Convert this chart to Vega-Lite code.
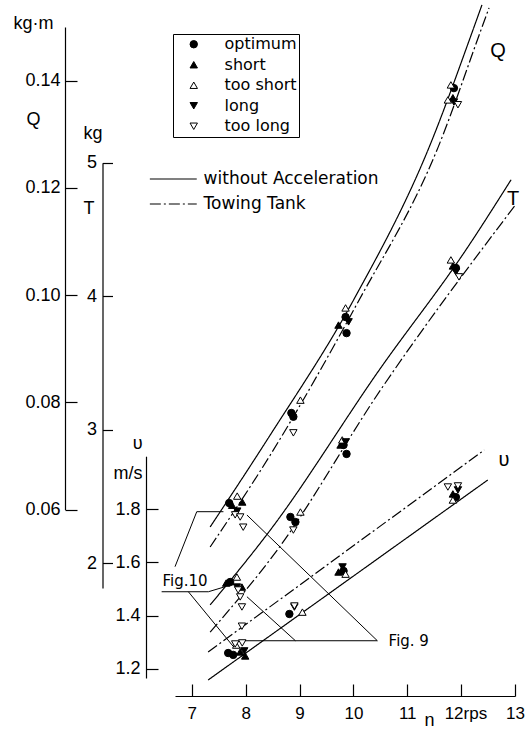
{
  "$schema": "https://vega.github.io/schema/vega-lite/v6.json",
  "width": 340,
  "height": 696,
  "autosize": {"type": "none"},
  "padding": {"left": 175, "top": 0, "right": 15, "bottom": 36},
  "background": "white",
  "config": {
    "view": {"stroke": null},
    "font": "Liberation Sans",
    "axis": {
      "grid": false,
      "domainColor": "black",
      "tickColor": "black",
      "labelColor": "black",
      "titleColor": "black",
      "domainWidth": 1.2,
      "tickWidth": 1.2,
      "labelFont": "Liberation Sans",
      "titleFont": "Liberation Sans",
      "titleFontWeight": "normal",
      "labelFlush": false,
      "labelOverlap": false
    }
  },
  "datasets": {
    "Qc": [
      {"n": 7.341, "Q": 0.05673, "curve": "without Acceleration"},
      {"n": 8.421, "Q": 0.07334, "curve": "without Acceleration"},
      {"n": 10.004, "Q": 0.09909, "curve": "without Acceleration"},
      {"n": 11.401, "Q": 0.12745, "curve": "without Acceleration"},
      {"n": 12.220, "Q": 0.14946, "curve": "without Acceleration"},
      {"n": 12.387, "Q": 0.15413, "curve": "without Acceleration"},
      {"n": 7.341, "Q": 0.05300, "curve": "Towing Tank"},
      {"n": 8.458, "Q": 0.07017, "curve": "Towing Tank"},
      {"n": 10.073, "Q": 0.09847, "curve": "Towing Tank"},
      {"n": 11.568, "Q": 0.12745, "curve": "Towing Tank"},
      {"n": 12.369, "Q": 0.14946, "curve": "Towing Tank"},
      {"n": 12.518, "Q": 0.15357, "curve": "Towing Tank"}
    ],
    "Tc": [
      {"n": 7.341, "T": 1.688, "curve": "without Acceleration"},
      {"n": 8.458, "T": 2.249, "curve": "without Acceleration"},
      {"n": 10.507, "T": 3.463, "curve": "without Acceleration"},
      {"n": 12.089, "T": 4.347, "curve": "without Acceleration"},
      {"n": 12.927, "T": 4.872, "curve": "without Acceleration"},
      {"n": 7.341, "T": 1.485, "curve": "Towing Tank"},
      {"n": 8.589, "T": 2.100, "curve": "Towing Tank"},
      {"n": 10.507, "T": 3.300, "curve": "Towing Tank"},
      {"n": 13.02, "T": 4.690, "curve": "Towing Tank"}
    ],
    "vc": [
      {"n": 7.304, "v": 1.1575, "curve": "without Acceleration"},
      {"n": 12.494, "v": 1.9103, "curve": "without Acceleration"},
      {"n": 7.304, "v": 1.2629, "curve": "Towing Tank"},
      {"n": 12.43, "v": 2.0232, "curve": "Towing Tank"}
    ],
    "Qp": [
      {"n": 7.695, "Q": 0.0612, "type": "optimum"},
      {"n": 8.849, "Q": 0.0780, "type": "optimum"},
      {"n": 8.886, "Q": 0.0773, "type": "optimum"},
      {"n": 9.855, "Q": 0.0959, "type": "optimum"},
      {"n": 9.873, "Q": 0.0929, "type": "optimum"},
      {"n": 11.866, "Q": 0.1386, "type": "optimum"},
      {"n": 7.937, "Q": 0.0614, "type": "short"},
      {"n": 7.750, "Q": 0.0608, "type": "short"},
      {"n": 9.724, "Q": 0.0944, "type": "short"},
      {"n": 11.847, "Q": 0.1368, "type": "short"},
      {"n": 7.844, "Q": 0.0625, "type": "too short"},
      {"n": 9.017, "Q": 0.0804, "type": "too short"},
      {"n": 9.855, "Q": 0.0976, "type": "too short"},
      {"n": 11.810, "Q": 0.1392, "type": "too short"},
      {"n": 11.754, "Q": 0.1364, "type": "too short"},
      {"n": 7.844, "Q": 0.0597, "type": "long"},
      {"n": 9.911, "Q": 0.0950, "type": "long"},
      {"n": 11.866, "Q": 0.1360, "type": "long"},
      {"n": 7.806, "Q": 0.0590, "type": "too long"},
      {"n": 7.899, "Q": 0.0586, "type": "too long"},
      {"n": 7.955, "Q": 0.0567, "type": "too long"},
      {"n": 8.886, "Q": 0.0743, "type": "too long"},
      {"n": 11.941, "Q": 0.1355, "type": "too long"}
    ],
    "Tp": [
      {"n": 7.713, "T": 1.860, "type": "optimum"},
      {"n": 8.831, "T": 2.347, "type": "optimum"},
      {"n": 8.924, "T": 2.309, "type": "optimum"},
      {"n": 9.818, "T": 2.886, "type": "optimum"},
      {"n": 9.873, "T": 2.819, "type": "optimum"},
      {"n": 11.903, "T": 4.212, "type": "optimum"},
      {"n": 7.931, "T": 1.822, "type": "short"},
      {"n": 7.639, "T": 1.852, "type": "short"},
      {"n": 9.762, "T": 2.886, "type": "short"},
      {"n": 11.847, "T": 4.227, "type": "short"},
      {"n": 7.838, "T": 1.897, "type": "too short"},
      {"n": 9.017, "T": 2.384, "type": "too short"},
      {"n": 9.793, "T": 2.924, "type": "too short"},
      {"n": 11.810, "T": 4.272, "type": "too short"},
      {"n": 7.838, "T": 1.822, "type": "long"},
      {"n": 9.855, "T": 2.909, "type": "long"},
      {"n": 11.903, "T": 4.182, "type": "long"},
      {"n": 7.862, "T": 1.800, "type": "too long"},
      {"n": 7.899, "T": 1.748, "type": "too long"},
      {"n": 7.931, "T": 1.673, "type": "too long"},
      {"n": 8.886, "T": 2.249, "type": "too long"},
      {"n": 11.960, "T": 4.145, "type": "too long"}
    ],
    "vp": [
      {"n": 7.676, "v": 1.259, "type": "optimum"},
      {"n": 7.769, "v": 1.252, "type": "optimum"},
      {"n": 8.812, "v": 1.406, "type": "optimum"},
      {"n": 9.818, "v": 1.568, "type": "optimum"},
      {"n": 11.903, "v": 1.846, "type": "optimum"},
      {"n": 7.899, "v": 1.263, "type": "short"},
      {"n": 7.992, "v": 1.248, "type": "short"},
      {"n": 9.724, "v": 1.564, "type": "short"},
      {"n": 11.847, "v": 1.858, "type": "short"},
      {"n": 7.825, "v": 1.289, "type": "too short"},
      {"n": 9.054, "v": 1.413, "type": "too short"},
      {"n": 9.855, "v": 1.556, "type": "too short"},
      {"n": 11.847, "v": 1.835, "type": "too short"},
      {"n": 7.974, "v": 1.267, "type": "long"},
      {"n": 8.905, "v": 1.432, "type": "long"},
      {"n": 9.799, "v": 1.583, "type": "long"},
      {"n": 11.941, "v": 1.873, "type": "long"},
      {"n": 7.931, "v": 1.360, "type": "too long"},
      {"n": 7.806, "v": 1.293, "type": "too long"},
      {"n": 7.937, "v": 1.297, "type": "too long"},
      {"n": 8.905, "v": 1.436, "type": "too long"},
      {"n": 11.754, "v": 1.884, "type": "too long"},
      {"n": 11.941, "v": 1.888, "type": "too long"}
    ],
    "lead": [
      {"seg": "A", "o": 1, "n": 6.689, "Q": 0.04933},
      {"seg": "A", "o": 2, "n": 7.093, "Q": 0.05959},
      {"seg": "A", "o": 3, "n": 7.588, "Q": 0.05959},
      {"seg": "B", "o": 1, "n": 6.441, "Q": 0.04466},
      {"seg": "B", "o": 2, "n": 7.309, "Q": 0.04466},
      {"seg": "B", "o": 3, "n": 7.620, "Q": 0.04560},
      {"seg": "C", "o": 1, "n": 6.937, "Q": 0.04466},
      {"seg": "C", "o": 2, "n": 7.775, "Q": 0.03440},
      {"seg": "D", "o": 1, "n": 7.899, "Q": 0.03552},
      {"seg": "D", "o": 2, "n": 10.445, "Q": 0.03552},
      {"seg": "D", "o": 3, "n": 8.024, "Q": 0.05897},
      {"seg": "E", "o": 1, "n": 8.924, "Q": 0.03552},
      {"seg": "E", "o": 2, "n": 8.024, "Q": 0.04373}
    ],
    "figs": [
      {"label": "Fig.10", "n": 6.877, "Q": 0.04666},
      {"label": "Fig. 9", "n": 11.028, "Q": 0.03547}
    ],
    "Qlab": [{"label": "Q", "n": 12.685, "Q": 0.14554}],
    "Tlab": [{"label": "T", "n": 12.965, "T": 4.729}],
    "vlab": [{"label": "υ", "n": 12.797, "v": 1.9855}]
  },
  "encoding": {
    "x": {
      "field": "n",
      "type": "quantitative",
      "scale": {"domain": [6.689, 13], "nice": false, "zero": false},
      "axis": {
        "orient": "bottom",
        "values": [7, 8, 9, 10, 11, 12, 13],
        "tickSize": -12,
        "labelPadding": 21,
        "labelFontSize": 17,
        "labelBaseline": "top",
        "labelExpr": "datum.value == 12 ? '12rps' : datum.label",
        "labelAlign": {"condition": {"test": "datum.value == 12", "value": "left"}, "value": "center"},
        "labelOffset": {"condition": {"test": "datum.value == 12", "value": -17}, "value": 0},
        "title": "n",
        "titleX": 254,
        "titleY": 29,
        "titleAlign": "center",
        "titleBaseline": "alphabetic",
        "titleFontSize": 18
      }
    }
  },
  "layer": [
    {
      "layer": [
        {
          "data": {"name": "Qc"},
          "mark": {"type": "line", "interpolate": "monotone", "color": "black", "strokeWidth": 1.2},
          "encoding": {
            "y": {
              "field": "Q", "type": "quantitative",
              "scale": {"domain": [0.06, 0.15], "range": [509.5, 27], "nice": false, "zero": false},
              "axis": {
                "orient": "left", "offset": 110,
                "values": [0.06, 0.08, 0.1, 0.12, 0.14], "format": ".2f",
                "tickSize": -12, "labelPadding": 17, "labelFontSize": 18,
                "title": ["kg·m", "Q"], "titleAngle": 0, "titleAlign": "center",
                "titleBaseline": "alphabetic", "titleX": -32, "titleY": 28,
                "titleLineHeight": 96, "titleFontSize": 18
              }
            },
            "strokeDash": {
              "field": "curve", "type": "nominal",
              "scale": {"domain": ["without Acceleration", "Towing Tank"], "range": [[1, 0], [11, 3, 2, 3]]},
              "legend": {
                "title": null, "orient": "none", "legendX": -10.2, "legendY": 170.5,
                "padding": 0, "symbolType": "M-5,0H5", "symbolSize": 88,
                "symbolStrokeColor": "black", "symbolStrokeWidth": 1.2, "symbolFillColor": "transparent",
                "labelFont": "DejaVu Sans", "labelFontSize": 17, "labelColor": "black",
                "labelOffset": 21.8, "rowPadding": 7, "labelLimit": 0
              }
            }
          }
        },
        {
          "data": {"name": "lead"},
          "mark": {"type": "line", "color": "black", "strokeWidth": 1},
          "encoding": {
            "y": {"field": "Q", "type": "quantitative"},
            "detail": {"field": "seg"},
            "order": {"field": "o"}
          }
        },
        {
          "data": {"name": "Qp"},
          "mark": {"type": "point", "filled": false, "strokeWidth": 1, "size": 55, "opacity": 1},
          "encoding": {
            "y": {"field": "Q", "type": "quantitative"},
            "shape": {
              "field": "type", "type": "nominal",
              "scale": {"domain": ["optimum", "short", "too short", "long", "too long"], "range": ["circle", "triangle-up", "triangle-up", "triangle-down", "triangle-down"]},
              "legend": {
                "title": null, "orient": "none", "legendX": -2, "legendY": 34,
                "padding": 2.25, "symbolOffset": 10.5, "labelOffset": 22.8, "rowPadding": 4.5,
                "strokeColor": "black", "fillColor": "white",
                "symbolStrokeWidth": 1, "symbolSize": 55,
                "labelFont": "DejaVu Sans", "labelFontSize": 16, "labelColor": "black",
                "labelExpr": "datum.label + '\u00a0\u00a0'"
              }
            },
            "fill": {
              "field": "type", "type": "nominal",
              "scale": {"domain": ["optimum", "short", "too short", "long", "too long"], "range": ["black", "black", "white", "black", "white"]},
              "legend": {
                "title": null, "orient": "none", "legendX": -2, "legendY": 34,
                "padding": 2.25, "symbolOffset": 10.5, "labelOffset": 22.8, "rowPadding": 4.5,
                "strokeColor": "black", "fillColor": "white",
                "symbolStrokeWidth": 1, "symbolSize": 55,
                "labelFont": "DejaVu Sans", "labelFontSize": 16, "labelColor": "black",
                "labelExpr": "datum.label + '\u00a0\u00a0'"
              }
            },
            "stroke": {
              "field": "type", "type": "nominal",
              "scale": {"domain": ["optimum", "short", "too short", "long", "too long"], "range": ["black", "black", "black", "black", "black"]},
              "legend": {
                "title": null, "orient": "none", "legendX": -2, "legendY": 34,
                "padding": 2.25, "symbolOffset": 10.5, "labelOffset": 22.8, "rowPadding": 4.5,
                "strokeColor": "black", "fillColor": "white",
                "symbolStrokeWidth": 1, "symbolSize": 55,
                "labelFont": "DejaVu Sans", "labelFontSize": 16, "labelColor": "black",
                "labelExpr": "datum.label + '\u00a0\u00a0'"
              }
            }
          }
        },
        {
          "data": {"name": "figs"},
          "mark": {"type": "text", "font": "DejaVu Sans", "fontSize": 15, "color": "black", "align": "center", "baseline": "middle"},
          "encoding": {
            "y": {"field": "Q", "type": "quantitative"},
            "text": {"field": "label"}
          }
        },
        {
          "data": {"name": "Qlab"},
          "mark": {"type": "text", "font": "Liberation Sans", "fontSize": 20, "color": "black", "align": "center", "baseline": "middle"},
          "encoding": {
            "y": {"field": "Q", "type": "quantitative"},
            "text": {"field": "label"}
          }
        }
      ]
    },
    {
      "layer": [
        {
          "data": {"name": "Tc"},
          "mark": {"type": "line", "interpolate": "monotone", "color": "black", "strokeWidth": 1.2},
          "encoding": {
            "y": {
              "field": "T", "type": "quantitative",
              "scale": {"domain": [1.815, 5], "range": [588, 162.7], "nice": false, "zero": false},
              "axis": {
                "orient": "left", "offset": 72.5,
                "values": [2, 3, 4, 5], "format": "d",
                "tickSize": -10, "labelPadding": 16, "labelFontSize": 18,
                "title": ["kg", "T"], "titleAngle": 0, "titleAlign": "left",
                "titleBaseline": "alphabetic", "titleX": -19.5, "titleY": 138,
                "titleLineHeight": 75, "titleFontSize": 18
              }
            },
            "strokeDash": {
              "field": "curve", "type": "nominal",
              "scale": {"domain": ["without Acceleration", "Towing Tank"], "range": [[1, 0], [11, 3, 2, 3]]}
            }
          }
        },
        {
          "data": {"name": "Tp"},
          "mark": {"type": "point", "filled": false, "strokeWidth": 1, "size": 55, "opacity": 1},
          "encoding": {
            "y": {"field": "T", "type": "quantitative"},
            "shape": {
              "field": "type", "type": "nominal",
              "scale": {"domain": ["optimum", "short", "too short", "long", "too long"], "range": ["circle", "triangle-up", "triangle-up", "triangle-down", "triangle-down"]}
            },
            "fill": {
              "field": "type", "type": "nominal",
              "scale": {"domain": ["optimum", "short", "too short", "long", "too long"], "range": ["black", "black", "white", "black", "white"]}
            },
            "stroke": {
              "field": "type", "type": "nominal",
              "scale": {"domain": ["optimum", "short", "too short", "long", "too long"], "range": ["black", "black", "black", "black", "black"]}
            }
          }
        },
        {
          "data": {"name": "Tlab"},
          "mark": {"type": "text", "font": "Liberation Sans", "fontSize": 20, "color": "black", "align": "center", "baseline": "middle"},
          "encoding": {
            "y": {"field": "T", "type": "quantitative"},
            "text": {"field": "label"}
          }
        }
      ]
    },
    {
      "layer": [
        {
          "data": {"name": "vc"},
          "mark": {"type": "line", "color": "black", "strokeWidth": 1.2},
          "encoding": {
            "y": {
              "field": "v", "type": "quantitative",
              "scale": {"domain": [1.165, 2.0], "range": [678, 456.2], "nice": false, "zero": false},
              "axis": {
                "orient": "left", "offset": 29,
                "values": [1.2, 1.4, 1.6, 1.8], "format": ".1f",
                "tickSize": -12, "labelPadding": 18, "labelFontSize": 18,
                "title": ["υ", "m/s"], "titleAngle": 0, "titleAlign": "right",
                "titleBaseline": "alphabetic", "titleX": -4, "titleY": 448,
                "titleLineHeight": 30, "titleFontSize": 18
              }
            },
            "strokeDash": {
              "field": "curve", "type": "nominal",
              "scale": {"domain": ["without Acceleration", "Towing Tank"], "range": [[1, 0], [11, 3, 2, 3]]}
            }
          }
        },
        {
          "data": {"name": "vp"},
          "mark": {"type": "point", "filled": false, "strokeWidth": 1, "size": 55, "opacity": 1},
          "encoding": {
            "y": {"field": "v", "type": "quantitative"},
            "shape": {
              "field": "type", "type": "nominal",
              "scale": {"domain": ["optimum", "short", "too short", "long", "too long"], "range": ["circle", "triangle-up", "triangle-up", "triangle-down", "triangle-down"]}
            },
            "fill": {
              "field": "type", "type": "nominal",
              "scale": {"domain": ["optimum", "short", "too short", "long", "too long"], "range": ["black", "black", "white", "black", "white"]}
            },
            "stroke": {
              "field": "type", "type": "nominal",
              "scale": {"domain": ["optimum", "short", "too short", "long", "too long"], "range": ["black", "black", "black", "black", "black"]}
            }
          }
        },
        {
          "data": {"name": "vlab"},
          "mark": {"type": "text", "font": "Liberation Sans", "fontSize": 20, "color": "black", "align": "center", "baseline": "middle"},
          "encoding": {
            "y": {"field": "v", "type": "quantitative"},
            "text": {"field": "label"}
          }
        }
      ]
    }
  ],
  "resolve": {"scale": {"y": "independent"}}
}
